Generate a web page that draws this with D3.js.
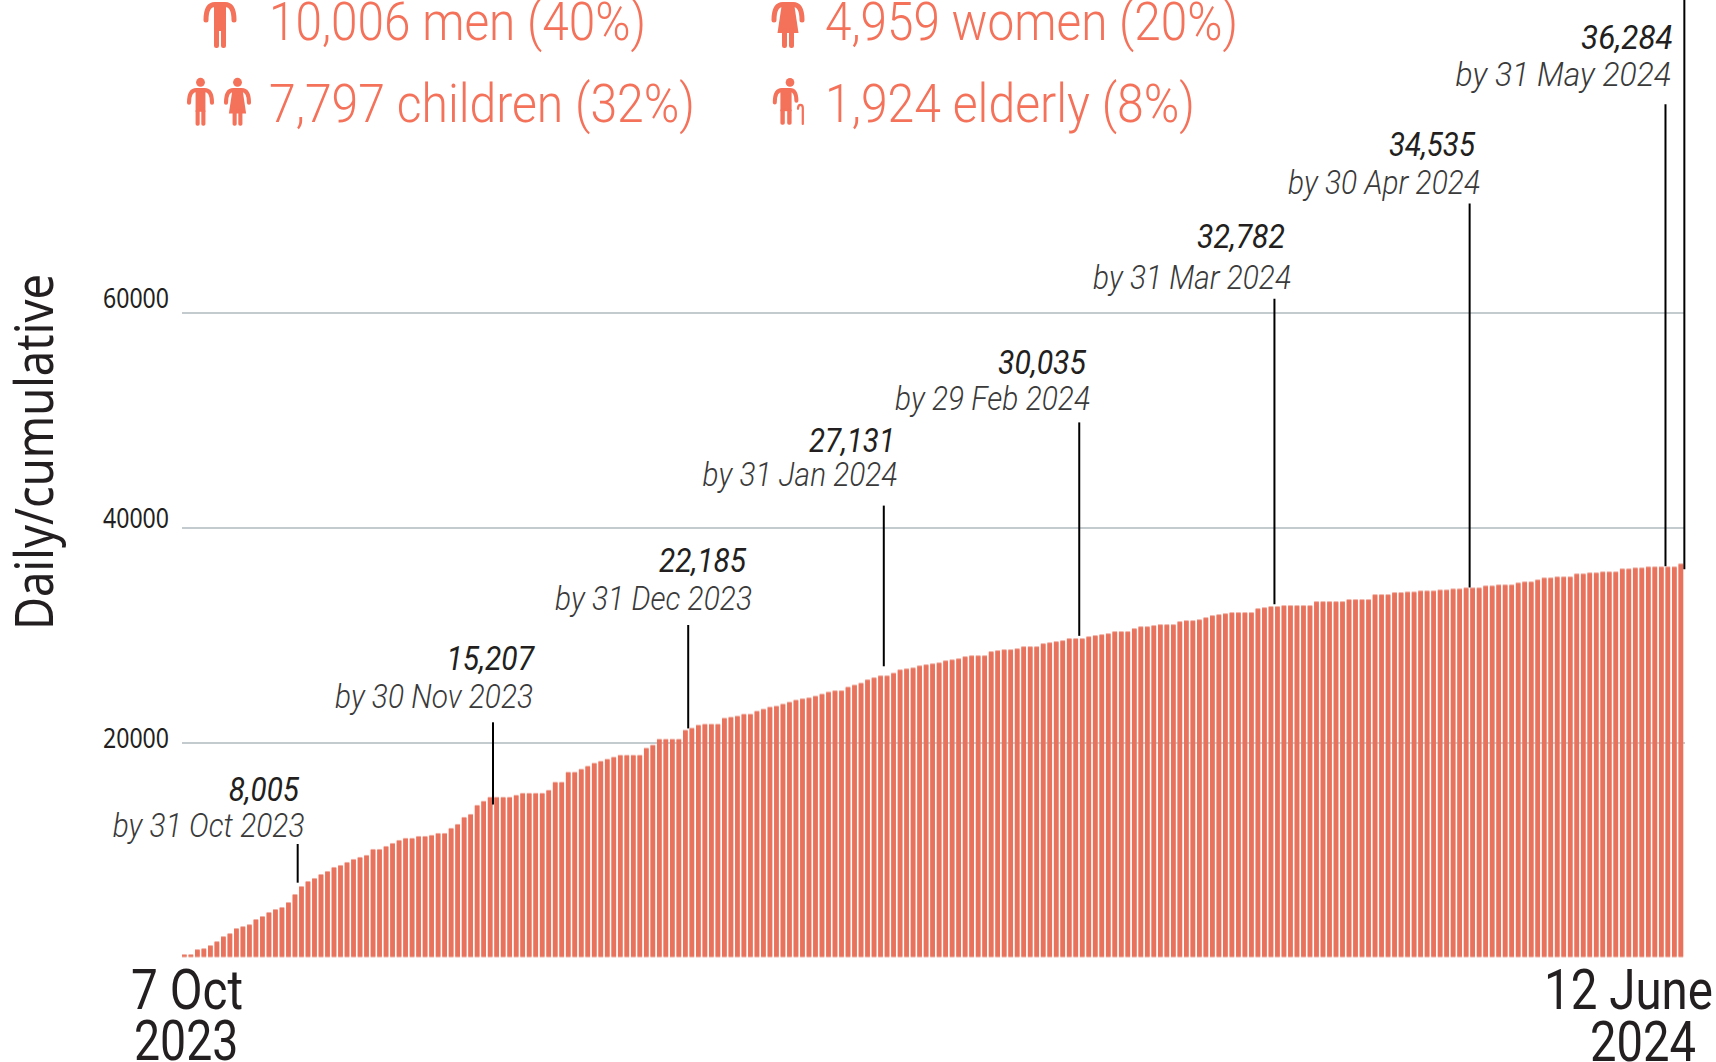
<!DOCTYPE html>
<html>
<head>
<meta charset="utf-8">
<title>Daily/cumulative</title>
<script src="https://cdn.jsdelivr.net/npm/d3@7/dist/d3.min.js"></script>
<style>
  html, body { margin: 0; padding: 0; background: #fff; overflow: hidden; }
  svg { display: block; }
  text { font-family: Roboto, sans-serif; }
</style>
</head>
<body>
<svg id="chart" width="1716" height="1062"></svg>
<script>
// Cumulative total per reported day
const cumulative = [
  317, 317, 780, 870, 1155, 1525, 1990, 2270, 2740, 2920, 3100, 3580, 3860, 4235, 4510, 4700,
  5160, 5910, 6650, 7120, 7400, 7770, 8050, 8425, 8610, 8890, 9170, 9360, 9545, 10100, 10100, 10380,
  10660, 10940, 11130, 11130, 11310, 11310, 11410, 11590, 11590, 12060, 12430, 13080, 13360, 14200, 14580, 14950,
  14950, 14950, 14950, 15135, 15320, 15320, 15320, 15320, 15600, 16350, 16350, 17280, 17280, 17560, 17840, 18120,
  18300, 18490, 18680, 18860, 18860, 18860, 18860, 19520, 19800, 20350, 20350, 20350, 20350, 21190, 21380, 21660,
  21750, 21750, 21750, 22310, 22400, 22500, 22680, 22680, 22960, 23150, 23340, 23430, 23620, 23800, 23990,
  24110, 24200, 24360, 24550, 24740, 24860, 24860, 25200, 25390, 25570, 25880, 26070, 26250, 26250, 26500, 26810,
  26900, 26990, 27180, 27280, 27370, 27460, 27650, 27740, 27840, 28030, 28120, 28120, 28120, 28500, 28590, 28680,
  28680, 28770, 28960, 28960, 28960, 29240, 29330, 29430, 29520, 29710, 29710, 29710, 29890, 29990,
  30080, 30170, 30360, 30360, 30360, 30640, 30820, 30820, 30920, 31010, 31010, 31010, 31290, 31380, 31380, 31470,
  31660, 31850, 31940, 32030, 32130, 32130, 32130, 32130, 32500, 32590, 32690, 32690, 32780, 32780, 32780, 32780,
  32780, 33150, 33150, 33150, 33150, 33150, 33340, 33340, 33340, 33340, 33800, 33800, 33800, 33990, 33990, 34050,
  34050, 34150, 34150, 34150, 34240, 34240, 34335, 34335, 34430, 34430, 34430, 34615, 34615, 34710, 34710, 34710,
  34895, 34990, 34990, 35175, 35360, 35360, 35455, 35455, 35455, 35735, 35735, 35830, 35830, 35920, 35920, 35920,
  36200, 36200, 36290, 36290, 36385, 36385, 36385, 36385, 36385, 36665
];

const yTicks = [20000, 40000, 60000];
const yTitle = 'Daily/cumulative';

// Month-end callouts
const calloutTotals = ['8,005', '15,207', '22,185', '27,131', '30,035', '32,782', '34,535', '36,284'];
const calloutDates = ['by 31 Oct 2023', 'by 30 Nov 2023', 'by 31 Dec 2023', 'by 31 Jan 2024',
  'by 29 Feb 2024', 'by 31 Mar 2024', 'by 30 Apr 2024', 'by 31 May 2024'];
const calloutBarPos = [17.78, 47.8, 77.8, 107.86, 137.9, 167.9, 197.9, 228, 230.9];
const calloutEndValues = [6960, 14230, 21310, 27090, 29920, 32870, 34430, 36385, 36110];

const startLabel = ['7 Oct', '2023'];
const endLabel = ['12 June', '2024'];

const legendLabels = ['10,006 men (40%)', '4,959 women (20%)', '7,797 children (32%)', '1,924 elderly (8%)'];

const barColor = '#e8725b';
const barEdge = '#f2b0a4';
const legendColor = '#f4715a';
const ink = '#231f20';

const svg = d3.select('#chart');

const x = d3.scaleLinear().domain([0, cumulative.length]).range([182, 1685]);
const y = d3.scaleLinear().domain([0, 60000]).range([957.5, 312.5]);
// the tick labels drift a little against their gridlines in the original
const tickLabelY = d3.scaleLinear().domain([20000, 60000]).range([747.5, 307]);

const barWidth = 4.7;

// Adds a text squeezed to an exact width, the original face is a condensed Roboto
const addText = (parent, str, x0, x1, baseline, size, weight, style, color) =>
  parent.append('text')
    .attr('x', x0)
    .attr('y', baseline)
    .attr('textLength', x1 - x0)
    .attr('lengthAdjust', 'spacingAndGlyphs')
    .style('font-size', `${size}px`)
    .style('font-weight', weight)
    .style('font-style', style)
    .attr('fill', color)
    .text(str);

// Gridlines and tick labels
const yAxis = svg.append('g')
  .attr('class', 'y-axis')
  .attr('transform', 'translate(182,0)')
  .call(d3.axisLeft(y).tickValues(yTicks).tickSize(-1503).tickFormat(d => d));
yAxis.select('.domain').remove();
yAxis.selectAll('.tick line').attr('stroke', '#c3cbce').attr('stroke-width', 2);
yAxis.selectAll('.tick text')
  .attr('x', -79)
  .attr('dy', null)
  .attr('y', d => tickLabelY(d) - y(d))
  .attr('text-anchor', 'start')
  .attr('textLength', 66)
  .attr('lengthAdjust', 'spacingAndGlyphs')
  .attr('fill', ink)
  .style('font-family', '"Noto Sans", sans-serif')
  .style('font-size', '27px');

// Bars: pale full height rect with the solid one inset, gives the soft edges of the original
svg.append('g').selectAll('rect')
  .data(cumulative)
  .join('rect')
  .attr('x', (d, i) => x(i))
  .attr('y', d => y(d))
  .attr('width', barWidth)
  .attr('height', d => y(0) - y(d))
  .attr('fill', barEdge);

svg.append('g').selectAll('rect')
  .data(cumulative)
  .join('rect')
  .attr('x', (d, i) => x(i))
  .attr('y', d => y(d) + 1)
  .attr('width', barWidth)
  .attr('height', d => Math.max(0, y(0) - y(d) - 2))
  .attr('fill', barColor);

// Leader lines, top ends are layout only
const leaderTops = [844, 722.3, 625, 505.6, 422.4, 298.8, 203.6, 104.3, 0];
svg.append('g').selectAll('line')
  .data(calloutBarPos)
  .join('line')
  .attr('x1', d => x(d))
  .attr('x2', d => x(d))
  .attr('y1', (d, i) => leaderTops[i])
  .attr('y2', (d, i) => y(calloutEndValues[i]))
  .attr('stroke', '#000')
  .attr('stroke-width', 2);

// Callout text: [total x0, total x1, total baseline, date x0, date x1, date baseline]
const calloutLayout = [
  [228.7, 299, 800.7, 112.7, 304.5, 836.5],
  [446.5, 534, 670, 335, 533, 708],
  [659, 746, 571.5, 555, 752, 609.7],
  [809, 895, 452, 702.6, 897.4, 485.5],
  [998, 1086, 374, 895, 1090, 410],
  [1197, 1285, 247.5, 1093, 1291, 288.5],
  [1389, 1475, 155.6, 1288, 1480, 194],
  [1581, 1672.7, 49, 1455.6, 1671, 86]
];
calloutTotals.forEach((t, i) => {
  const l = calloutLayout[i];
  addText(svg, t, l[0], l[1], l[2], 33, 400, 'italic', ink);
  addText(svg, calloutDates[i], l[3], l[4], l[5], 33, 300, 'italic', '#3a3a3a');
});

// Axis end labels
addText(svg, startLabel[0], 131, 243, 1009, 55, 400, 'normal', ink);
addText(svg, startLabel[1], 134, 238.5, 1060, 55, 400, 'normal', ink);
addText(svg, endLabel[0], 1544, 1713, 1008.5, 55, 400, 'normal', ink);
addText(svg, endLabel[1], 1590, 1696, 1060.5, 55, 400, 'normal', ink);

// Rotated title
svg.append('text')
  .attr('transform', 'translate(53,630) rotate(-90)')
  .attr('textLength', 356)
  .attr('lengthAdjust', 'spacingAndGlyphs')
  .style('font-family', '"Noto Sans", sans-serif')
  .style('font-size', '52px')
  .attr('fill', ink)
  .text(yTitle);

// Legend text
const legendLayout = [[269, 646, 40], [825, 1238, 40], [269, 695, 121.5], [825, 1195, 121.5]];
legendLabels.forEach((t, i) => {
  const l = legendLayout[i];
  addText(svg, t, l[0], l[1], l[2], 54, 300, 'normal', legendColor);
});

// Pictogram pieces, local units: shoulders at 0, feet at 46
const arms = g => g.append('path')
  .attr('d', 'M-14,18 Q-14,2.5 -5,2.5 L5,2.5 Q14,2.5 14,18')
  .attr('fill', 'none')
  .attr('stroke', legendColor)
  .attr('stroke-width', 5)
  .attr('stroke-linecap', 'round');

const legs = g => {
  g.append('rect').attr('x', -6).attr('y', 26).attr('width', 5).attr('height', 20).attr('rx', 2.2).attr('fill', legendColor);
  g.append('rect').attr('x', 1).attr('y', 26).attr('width', 5).attr('height', 20).attr('rx', 2.2).attr('fill', legendColor);
};

const maleIcon = (cx, top, k, head) => {
  const g = svg.append('g').attr('transform', `translate(${cx},${top}) scale(${k})`);
  arms(g);
  g.append('rect').attr('x', -6).attr('y', 1).attr('width', 12).attr('height', 28).attr('fill', legendColor);
  legs(g);
  if (head) g.append('circle').attr('cy', -7).attr('r', 5.4).attr('fill', legendColor);
};

const femaleIcon = (cx, top, k, head) => {
  const g = svg.append('g').attr('transform', `translate(${cx},${top}) scale(${k})`);
  arms(g);
  g.append('path').attr('d', 'M-6,1 L6,1 L10.5,31 L-10.5,31 Z').attr('fill', legendColor);
  legs(g);
  if (head) g.append('circle').attr('cy', -7).attr('r', 5.4).attr('fill', legendColor);
};

maleIcon(220, 2, 1, false);
femaleIcon(788, 2, 1, false);
maleIcon(200.5, 88, 0.82, true);
femaleIcon(237.5, 88, 0.82, true);

// Elderly figure with a cane
const old = svg.append('g').attr('transform', 'translate(786,88) scale(0.8)');
old.append('path')
  .attr('d', 'M-14,18 Q-14,2.5 -5,2.5 L5,2.5 Q13,2.5 13,16')
  .attr('fill', 'none')
  .attr('stroke', legendColor)
  .attr('stroke-width', 5)
  .attr('stroke-linecap', 'round');
old.append('rect').attr('x', -7).attr('y', 1).attr('width', 14).attr('height', 28).attr('fill', legendColor);
old.append('rect').attr('x', -7).attr('y', 26).attr('width', 5.5).attr('height', 20).attr('rx', 2.2).attr('fill', legendColor);
old.append('rect').attr('x', 1.5).attr('y', 26).attr('width', 5.5).attr('height', 20).attr('rx', 2.2).attr('fill', legendColor);
old.append('circle').attr('cx', 5).attr('cy', -7).attr('r', 5.4).attr('fill', legendColor);
old.append('path')
  .attr('d', 'M15,26 Q15,21 18,21 Q21,21 21,25 L21,45')
  .attr('fill', 'none')
  .attr('stroke', legendColor)
  .attr('stroke-width', 2.8)
  .attr('stroke-linecap', 'round');
</script>
</body>
</html>
